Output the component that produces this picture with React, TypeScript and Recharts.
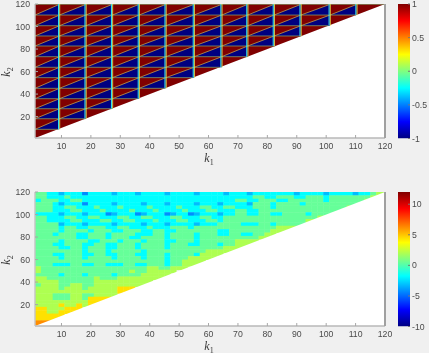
import React from "react";
import { ComposedChart, Area, Line, Scatter, XAxis, YAxis } from "recharts";

const k1Ticks = [10, 20, 30, 40, 50, 60, 70, 80, 90, 100, 110, 120];
const k2Ticks = [20, 40, 60, 80, 100, 120];
const k1Breaks = [1, 9.3, 18.3, 27.3, 36.4, 45.5, 55.1, 64.5, 73.3, 82.3, 91.4, 101.3, 110.4, 120];
const k2Breaks = [1, 8.7, 18.1, 27, 35.9, 45.1, 54.6, 63.8, 73.2, 82.7, 91.6, 100.7, 110.2, 119.7];
const topBarTicks = [-1, -0.5, 0, 0.5, 1];
const bottomBarTicks = [-10, -5, 0, 5, 10];
const levelValues: Record<string, number> = { b: -4.2, l: -3.2, c: -1.75, g: 0.45, y: 2, o: 4.4, r: 6.2 };
const diagonalEnds = [1, 120];

const bottomRows = [
  "ggcclcccbcccclccclcccclcccclcccclccclccccccclcccclcccclccgyy",
  "ggcccgcccccccccccccccccccccccccccccccggccgggccgggcgggggggyyy",
  "cgggccggccccccccccccccccccccccccccggccgggccggggggcggggggyyyy",
  "gggclcccbcccclcccclccclcccclccclcccclgggcggggcgggggggggyyy",
  "gggccggcccgcccgccccgccccgcccggccggcccgggcggggggggggggyy",
  "gggcccggcccgccccgcccgccccgcccggcccggccggggggggggggggy",
  "cccclccclcccblcccblcccblccblccclccggccggccggggcggggy",
  "ggcccggccggcccggccggcccggcccggccggggggggggggggggyyy",
  "ggccccggcccggccggcccgcccggcccggcggggggggggggggyy",
  "gggglccclcccclcccclccclcccclcccggggcccggcgggggy",
  "ggggcggccgggccggcccgcccgggcggggggggggggggyyyy",
  "ggggcggggcgggccgggccggccgggggggccgggggggyyy",
  "gggcgggccgggcggggcccggcggggcgggccggccggyy",
  "gggggggccgggcgggccggggcggggcggggggggggyy",
  "ggggcggggccgggcgggcgggccgggcggggggyyyy",
  "gggccgggccggccgggcggggcgggccgggcggyyy",
  "ggggccggcgggccgggcggggcgggggggggyyyy",
  "ggggggggcgggcgggggcggggggggggyyyyy",
  "gggccgggccggccgggccgggcggggcyyyy",
  "ggggcgggcggggcggggcgggcgggyyyyy",
  "ggggggggggggggggggggggcggyyyy",
  "gggcccggccggcccggccgggcggyyy",
  "yggggggggggggggggggyyggyyy",
  "ygggggggggggggggyggyyyyy",
  "ggggcgggcggggcggggyyyyy",
  "yyggggggggygggyyyyyyyy",
  "yyyyggggggyyyyyyyyyy",
  "gyyyggyyggyyyyyyyyy",
  "yyyygyyygyyyyyooo",
  "yyyyyyyyyyyyyyoo",
  "yyygggyyggyyyy",
  "yyygggyygoooo",
  "yyyyyyyyyooo",
  "yyyyoyyoyo",
  "ooyyyooo",
  "ooyyooo",
  "ooooo",
  "oooo",
  "rrr",
  "r",
];

const FONT = "'Liberation Sans', Arial, sans-serif";
const BG = "#f0f0f0";
const TICK = "#4a4a4a";
const AXIS = "#a8a8a8";
const PLOT_W = 350;
const PLOT_H = 134.5;
const CELL_W = (PLOT_W / 119) * 2;
const CELL_H = (PLOT_H / 119) * 3;

function jet(v: number, lo: number, hi: number) {
  const t = (v - lo) / (hi - lo);
  const ch = (c: number) => Math.round(255 * Math.max(0, Math.min(1, 1.5 - Math.abs(4 * t - c))));
  return `rgb(${ch(3)},${ch(2)},${ch(1)})`;
}

const DARK_RED = jet(1, -1, 1);
const DARK_BLUE = jet(-1, -1, 1);

const cells = bottomRows.flatMap((row, r) =>
  row.split("").map((ch, c) => ({ x: 2 + 2 * c, y: 118.5 - 3 * r, v: levelValues[ch] }))
);

const whiteBand = diagonalEnds.map((x) => ({ x, band: [1, x] }));
const redBand = diagonalEnds.map((x) => ({ x, band: [x, 120] }));

const triangles: { x: number; band: number[] }[][] = [];
const diagonals: { x: number; y: number }[][] = [];
const rowEdges: { x: number; y: number }[][] = [];
const colEdges: { x: number; y: number }[][] = [];
for (let j = 1; j < k2Breaks.length; j++) {
  const lo = k2Breaks[j];
  const hi = k2Breaks[j + 1];
  if (hi !== undefined) {
    for (let i = 0; i < j && i < k1Breaks.length - 1; i++) {
      const x0 = k1Breaks[i];
      const x1 = k1Breaks[i + 1];
      triangles.push([
        { x: x0, band: [lo, lo] },
        { x: x1, band: [lo, hi] },
      ]);
      diagonals.push([
        { x: x0, y: lo },
        { x: x1, y: hi },
      ]);
    }
  }
  rowEdges.push([
    { x: 1, y: lo },
    { x: lo, y: lo },
  ]);
}
for (let i = 1; i < k1Breaks.length - 1; i++) {
  colEdges.push([
    { x: k1Breaks[i], y: k2Breaks[i] },
    { x: k1Breaks[i], y: 120 },
  ]);
}

const tickStyle = { fontFamily: FONT, fontSize: 8.7, fill: TICK };

function frame(yTicks: number[]) {
  return [
    <XAxis key="xb" type="number" dataKey="x" domain={[1, 120]} ticks={k1Ticks} allowDataOverflow height={32} interval={0}
      tick={tickStyle} tickSize={-3} tickMargin={8} stroke={AXIS} axisLine={{ stroke: "#b8b8b8", strokeWidth: 1.4 }} />,
    <XAxis key="xt" xAxisId="t" orientation="top" type="number" dataKey="x" domain={[1, 120]} ticks={k1Ticks} allowDataOverflow height={0} interval={0}
      tick={false} tickSize={-3} stroke="#555555" />,
    <YAxis key="yl" type="number" domain={[1, 120]} ticks={yTicks} allowDataOverflow width={35} interval={0}
      tick={tickStyle} tickSize={-3} tickMargin={8} stroke={AXIS} axisLine={{ stroke: "#c4c4c4", strokeWidth: 1.4 }} />,
    <YAxis key="yr" yAxisId="r" orientation="right" type="number" domain={[1, 120]} ticks={yTicks} allowDataOverflow width={44} interval={0}
      tick={false} tickSize={-3} stroke={AXIS} axisLine={{ stroke: "#a0a0a0", strokeWidth: 2 }} />,
  ];
}

function HeatCell(props: any) {
  const { cx, cy, payload } = props;
  return (
    <rect x={cx - CELL_W / 2} y={cy - CELL_H / 2} width={CELL_W + 0.4} height={CELL_H + 0.4} fill={jet(payload.v, -10, 12)} />
  );
}

function ColorBar({ top, lo, hi, ticks, id }: { top: number; lo: number; hi: number; ticks: number[]; id: string }) {
  const stops = [0, 0.125, 0.25, 0.375, 0.5, 0.625, 0.75, 0.875, 1];
  return (
    <div style={{ position: "absolute", left: 398, top }}>
      <ComposedChart width={31} height={134.5 + 8} margin={{ top: 4, bottom: 4, left: 0, right: 0 }}>
        <defs>
          <linearGradient id={id} x1="0" y1="1" x2="0" y2="0">
            {stops.map((s) => (
              <stop key={s} offset={s} stopColor={jet(lo + s * (hi - lo), lo, hi)} />
            ))}
          </linearGradient>
        </defs>
        <XAxis type="number" dataKey="x" domain={[0, 1]} hide />
        <YAxis orientation="right" type="number" domain={[lo, hi]} ticks={ticks} width={19} interval={0} allowDataOverflow
          tick={tickStyle} tickSize={-2} tickMargin={4} stroke="#777777" axisLine={false} />
        <Area
          data={[
            { x: 0, band: [lo, hi] },
            { x: 1, band: [lo, hi] },
          ]}
          dataKey="band"
          type="linear"
          fill={`url(#${id})`}
          fillOpacity={1}
          stroke="none"
          isAnimationActive={false}
        />
      </ComposedChart>
    </div>
  );
}

function TopPanel() {
  return (
    <ComposedChart width={429} height={170} margin={{ top: 4, bottom: 0, left: 0, right: 0 }}>
      {frame(k2Ticks)}
      <Area data={whiteBand} dataKey="band" type="linear" fill="#ffffff" fillOpacity={1} stroke="none" isAnimationActive={false} />
      <Area data={redBand} dataKey="band" type="linear" fill={DARK_RED} fillOpacity={1} stroke="none" isAnimationActive={false} />
      {triangles.map((t, i) => (
        <Area key={`t${i}`} data={t} dataKey="band" type="linear" fill={DARK_BLUE} fillOpacity={1} stroke="none" isAnimationActive={false} />
      ))}
      {rowEdges.map((d, i) => (
        <Line key={`h${i}`} data={d} dataKey="y" type="linear" stroke="#7f9a68" strokeWidth={0.8} dot={false} isAnimationActive={false} />
      ))}
      {diagonals.map((d, i) => (
        <Line key={`d${i}`} data={d} dataKey="y" type="linear" stroke="#c8a848" strokeWidth={0.75} dot={false} isAnimationActive={false} />
      ))}
      {colEdges.map((d, i) => (
        <Line key={`vc${i}`} data={d.map((p) => ({ ...p, x: p.x - 0.3 }))} dataKey="y" type="linear" stroke="#30e0f0" strokeWidth={1.1} dot={false} isAnimationActive={false} />
      ))}
      {colEdges.map((d, i) => (
        <Line key={`vy${i}`} data={d.map((p) => ({ ...p, x: p.x + 0.1 }))} dataKey="y" type="linear" stroke="#e0e050" strokeWidth={0.9} dot={false} isAnimationActive={false} />
      ))}
    </ComposedChart>
  );
}

function BottomHeat() {
  return (
    <ComposedChart width={429} height={170} margin={{ top: 4, bottom: 32, left: 35, right: 44 }}>
      <XAxis type="number" dataKey="x" domain={[1, 120]} allowDataOverflow hide />
      <YAxis type="number" domain={[1, 120]} allowDataOverflow hide />
      <Scatter data={cells} dataKey="y" shape={HeatCell} isAnimationActive={false} />
    </ComposedChart>
  );
}

function BottomFrame() {
  return (
    <ComposedChart width={429} height={170} margin={{ top: 4, bottom: 0, left: 0, right: 0 }}>
      {frame(k2Ticks)}
      <Area data={whiteBand} dataKey="band" type="linear" fill="#ffffff" fillOpacity={1} stroke="none" isAnimationActive={false} />
    </ComposedChart>
  );
}

function AxisName({ x, y, sub, rotate }: { x: number; y: number; sub: string; rotate?: boolean }) {
  return (
    <text
      x={x}
      y={y}
      transform={rotate ? `rotate(-90 ${x} ${y})` : undefined}
      fontFamily="'Liberation Serif', serif"
      fontStyle="italic"
      fontSize={12}
      fill="#3a3a3a"
      textAnchor="middle"
    >
      k
      <tspan dy={2.5} fontSize={8} fontStyle="normal">
        {sub}
      </tspan>
    </text>
  );
}

export default function App() {
  return (
    <div style={{ position: "fixed", left: 0, top: 0, width: 429, height: 353, background: BG, overflow: "hidden" }}>
      <div style={{ position: "absolute", inset: 0, filter: "blur(0.4px)" }}>
        <div style={{ position: "absolute", left: 0, top: 0 }}>
          <TopPanel />
        </div>
        <div style={{ position: "absolute", left: 35, top: 191.5, width: 350, height: 134.5, overflow: "hidden" }}>
          <div style={{ position: "absolute", left: -35, top: -4, filter: "blur(0.6px)" }}>
            <BottomHeat />
          </div>
        </div>
        <div style={{ position: "absolute", left: 0, top: 187.5 }}>
          <BottomFrame />
        </div>
        <ColorBar top={0} lo={-1} hi={1} ticks={topBarTicks} id="barTop" />
        <ColorBar top={187.5} lo={-10} hi={12} ticks={bottomBarTicks} id="barBottom" />
        <svg width={429} height={353} style={{ position: "absolute", left: 0, top: 0 }}>
          <AxisName x={209} y={162} sub="1" />
          <AxisName x={209} y={350} sub="1" />
          <AxisName x={10} y={72} sub="2" rotate />
          <AxisName x={10} y={260} sub="2" rotate />
        </svg>
      </div>
    </div>
  );
}
